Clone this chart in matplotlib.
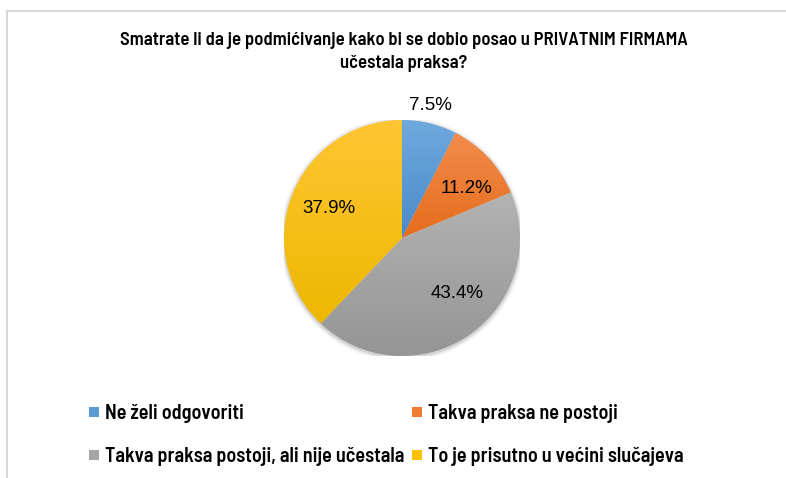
import numpy as np
import matplotlib.pyplot as plt
from matplotlib.colors import LinearSegmentedColormap
from matplotlib.patches import Rectangle
from matplotlib.lines import Line2D

# Data ---------------------------------------------------------------
title = "Smatrate li da je podmićivanje kako bi se dobio posao u PRIVATNIM FIRMAMA\nučestala praksa?"
categories = ["Ne želi odgovoriti", "Takva praksa ne postoji",
              "Takva praksa postoji, ali nije učestala", "To je prisutno u većini slučajeva"]
shares = [7.5, 11.2, 43.4, 37.9]

# light (top) -> dark (bottom) per slice, Excel style gradient
tops = ["#6fa9dd", "#f28c4c", "#b3b3b3", "#ffc633"]
bottoms = ["#4a8ac9", "#e56d1c", "#959595", "#eeb700"]
legend_col = ["#5b9bd5", "#ed7d31", "#a5a5a5", "#ffc000"]

narrow = ["Barlow Semi Condensed", "DejaVu Sans"]

W, H = 786, 478
fig = plt.figure(figsize=(W / 100, H / 100), dpi=100)

# chart frame (runs past the right and bottom edges of the crop)
frame = Rectangle((7 / W, -0.1), 1.2, 1 - 11 / H + 0.1, transform=fig.transFigure,
                  facecolor="none", edgecolor="#d9d9d9", linewidth=1.5, zorder=-5)
fig.patches.append(frame)

fig.text(404 / W, 1 - 52 / H, title, ha="center", va="center", fontsize=13.5,
         fontweight=600, family=narrow, color="#000000", linespacing=1.4)

# pie ---------------------------------------------------------------------
cx, cy, r = 402, 238, 118
ax = fig.add_axes([(cx - r) / W, (H - cy - r) / H, 2 * r / W, 2 * r / H])
wedges, texts = ax.pie(shares, startangle=90, counterclock=False, radius=1,
                       wedgeprops=dict(linewidth=0))
ax.set_aspect("equal")
ax.axis("off")

# soft shadow around the pie
for k, a in zip([1.035, 1.02, 1.01], [0.04, 0.06, 0.08]):
    ax.add_patch(plt.Circle((0, -0.01), k, color="#000000", alpha=a, lw=0, zorder=0))

for w, c1, c2 in zip(wedges, tops, bottoms):
    w.set_facecolor("none")
    bb = w.get_path().get_extents()
    cmap = LinearSegmentedColormap.from_list("g", [c1, c2])
    grad = np.linspace(0, 1, 256).reshape(-1, 1)
    im = ax.imshow(grad, cmap=cmap, extent=[bb.x0, bb.x1, bb.y0, bb.y1],
                   origin="upper", aspect="auto", zorder=1)
    im.set_clip_path(w)

ax.set_xlim(-1, 1)
ax.set_ylim(-1, 1)

# data labels (Excel best-fit positions)
label_pos = [(0.24, 1.12), (0.55, 0.42), (0.47, -0.47), (-0.62, 0.25)]
for v, (lx, ly) in zip(shares, label_pos):
    ax.text(lx, ly, f"{v:.1f}%", ha="center", va="center", fontsize=13.5,
            family=["Liberation Sans", "DejaVu Sans"], color="#000000", zorder=5,
            clip_on=False)

# legend ------------------------------------------------------------------
handles = [Line2D([], [], marker="s", linestyle="none", markersize=7.5,
                  markerfacecolor=c, markeredgewidth=0) for c in legend_col]
order = [0, 2, 1, 3]
fig.legend([handles[i] for i in order], [categories[i] for i in order], ncol=2,
           loc="upper left", bbox_to_anchor=(88 / W, 1 - 404 / H), frameon=False,
           prop=dict(family=narrow, size=14.5, weight=600),
           handlelength=0.6, handletextpad=0.25, columnspacing=0.3, labelspacing=1.2,
           borderaxespad=0, borderpad=0)

fig.savefig("out.png", dpi=100)
